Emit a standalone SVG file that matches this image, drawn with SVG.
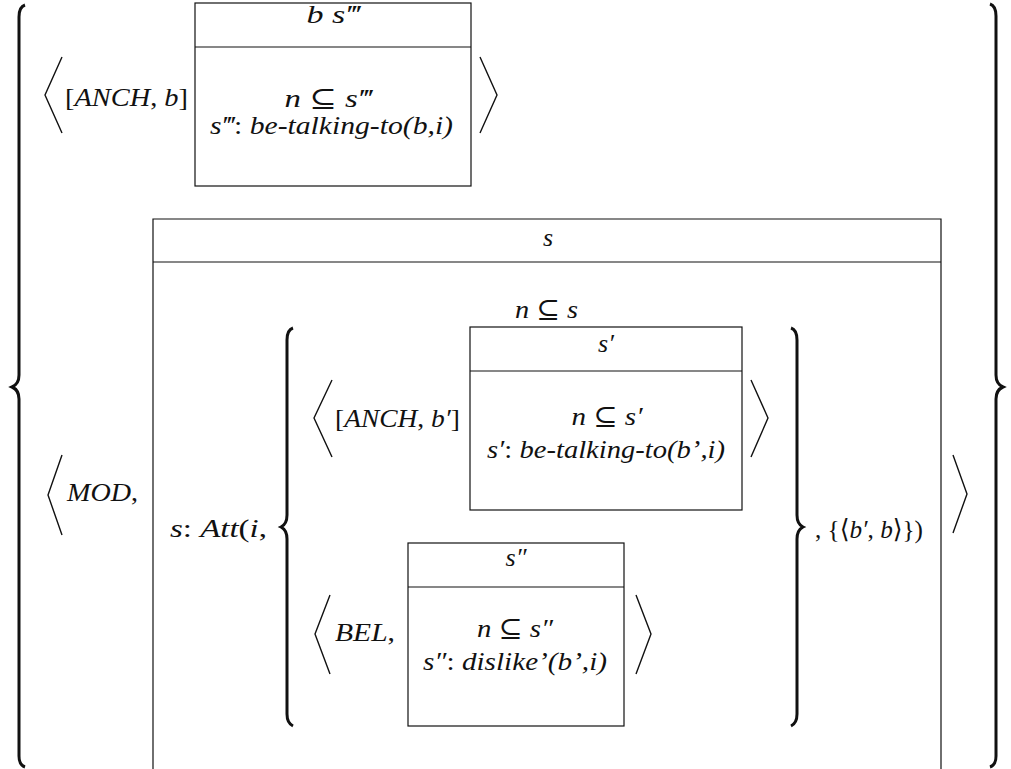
<svg xmlns="http://www.w3.org/2000/svg" width="1011" height="769" viewBox="0 0 1011 769">
<style>
.bg{fill:#fff}
.box{fill:none;stroke:#111;stroke-width:1.2}
.ang{fill:none;stroke:#111;stroke-width:1.4;stroke-linejoin:miter}
.brace{fill:none;stroke:#111;stroke-width:3;stroke-linecap:butt}
.t{font-family:"Liberation Serif","DejaVu Serif",serif;font-size:26px;font-style:italic;fill:#111}
.m{text-anchor:middle}
.u{font-style:normal}
</style>
<rect class="bg" x="0" y="0" width="1011" height="769"/>

<g id="delimiters">
  <path class="brace" d="M25 5 Q19 7 19 17 L19 375 Q19 384 12 387 Q19 390 19 399 L19 756 Q19 765 25 767"/>
  <path class="brace" d="M990 4 Q996 6 996 16 L996 375 Q996 384 1003 387 Q996 390 996 399 L996 756 Q996 765 990 767"/>
  <path class="brace" d="M293 328 Q287 330 287 340 L287 515 Q287 524 281 527 Q287 530 287 539 L287 714 Q287 723 293 726"/>
  <path class="brace" d="M791 328 Q797 330 797 340 L797 515 Q797 524 803 527 Q797 530 797 539 L797 714 Q797 723 791 726"/>
  <polyline class="ang" points="62,57 45,95 62,133"/>
  <polyline class="ang" points="480,57 497,95 480,133"/>
  <polyline class="ang" points="332,380 314,418 332,457"/>
  <polyline class="ang" points="751,380 768,418 751,457"/>
  <polyline class="ang" points="62,455 48,495 62,535"/>
  <polyline class="ang" points="953,455 967,494 953,533"/>
  <polyline class="ang" points="330,595 315,634 330,674"/>
  <polyline class="ang" points="636,595 651,634 636,674"/>
</g>

<g id="anch-b">
  <text class="t" x="65" y="106" textLength="123" lengthAdjust="spacingAndGlyphs"><tspan class="u">[</tspan>ANCH<tspan class="u">, </tspan>b<tspan class="u">]</tspan></text>
</g>

<g id="box-s3">
  <rect class="box" x="195" y="3" width="276" height="183"/>
  <line class="box" x1="195" y1="47" x2="471" y2="47"/>
  <text class="t m" x="333" y="23" textLength="53" lengthAdjust="spacingAndGlyphs">b s‴</text>
  <text class="t m" x="328" y="107" textLength="87" lengthAdjust="spacingAndGlyphs">n <tspan class="u">⊆</tspan> s‴</text>
  <text class="t" x="210" y="134" textLength="243" lengthAdjust="spacingAndGlyphs">s‴<tspan class="u">: </tspan>be-talking-to(b,i)</text>
</g>

<g id="mod">
  <text class="t" x="67" y="501" textLength="71" lengthAdjust="spacingAndGlyphs">MOD<tspan class="u">,</tspan></text>
</g>

<g id="box-s">
  <path class="box" d="M153 769 L153 219 L941 219 L941 769"/>
  <line class="box" x1="153" y1="262" x2="941" y2="262"/>
  <text class="t m" x="548" y="246">s</text>
  <text class="t" x="515" y="318" textLength="63" lengthAdjust="spacingAndGlyphs">n <tspan class="u">⊆</tspan> s</text>
  <text class="t" x="170" y="537" textLength="97" lengthAdjust="spacingAndGlyphs">s<tspan class="u">: </tspan>Att<tspan class="u">(</tspan>i<tspan class="u">,</tspan></text>
  <text class="t" x="815" y="538" textLength="108" lengthAdjust="spacingAndGlyphs"><tspan class="u">, {⟨</tspan>b′<tspan class="u">, </tspan>b<tspan class="u">⟩})</tspan></text>
</g>

<g id="anch-b-prime">
  <text class="t" x="335" y="427" textLength="125" lengthAdjust="spacingAndGlyphs"><tspan class="u">[</tspan>ANCH<tspan class="u">, </tspan>b′<tspan class="u">]</tspan></text>
</g>

<g id="box-s1">
  <rect class="box" x="470" y="327" width="272" height="183"/>
  <line class="box" x1="470" y1="371" x2="742" y2="371"/>
  <text class="t m" x="606" y="352">s′</text>
  <text class="t m" x="607" y="425" textLength="71" lengthAdjust="spacingAndGlyphs">n <tspan class="u">⊆</tspan> s′</text>
  <text class="t" x="487" y="458" textLength="238" lengthAdjust="spacingAndGlyphs">s′<tspan class="u">: </tspan>be-talking-to(b’,i)</text>
</g>

<g id="bel">
  <text class="t" x="335" y="641" textLength="60" lengthAdjust="spacingAndGlyphs">BEL<tspan class="u">,</tspan></text>
</g>

<g id="box-s2">
  <rect class="box" x="408" y="543" width="216" height="183"/>
  <line class="box" x1="408" y1="587" x2="624" y2="587"/>
  <text class="t m" x="516" y="566">s″</text>
  <text class="t m" x="515" y="637" textLength="76" lengthAdjust="spacingAndGlyphs">n <tspan class="u">⊆</tspan> s″</text>
  <text class="t" x="423" y="670" textLength="184" lengthAdjust="spacingAndGlyphs">s″<tspan class="u">: </tspan>dislike’(b’,i)</text>
</g>
</svg>
